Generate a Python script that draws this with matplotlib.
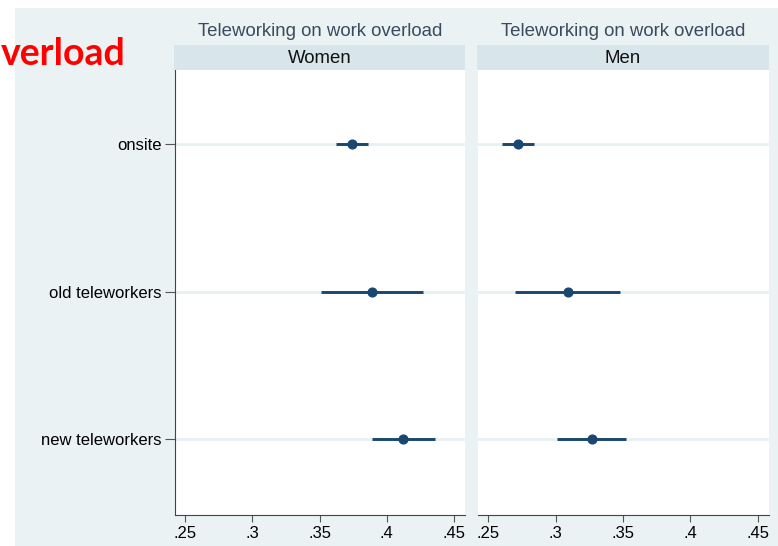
#!/usr/bin/env python
# coding=utf-8

import matplotlib
matplotlib.use("Agg")
import matplotlib.pyplot as plt
from matplotlib.patches import Rectangle

# data
categories = ["onsite", "old teleworkers", "new teleworkers"]
panels = ["Women", "Men"]
panel_title = "Teleworking on work overload"

women_est = [0.374, 0.389, 0.412]
women_lo = [0.362, 0.351, 0.389]
women_hi = [0.386, 0.427, 0.436]

men_est = [0.272, 0.309, 0.327]
men_lo = [0.260, 0.270, 0.301]
men_hi = [0.284, 0.348, 0.352]

xticks = [0.25, 0.30, 0.35, 0.40, 0.45]
xtick_labels = [".25", ".3", ".35", ".4", ".45"]

# style
bg_color = "#EAF2F3"
strip_color = "#D8E5EA"
grid_color = "#E8F0F2"
mark_color = "#1A476F"
font = "Liberation Sans"
font_size = 12.0
title_size = 13.4

W, H = 778, 546
fig = plt.figure(figsize=(W / 100, H / 100), dpi=100)
fig.patch.set_facecolor("white")
fig.patches.append(Rectangle((15 / W, 0), 1, 1 - 8 / H, transform=fig.transFigure,
                             facecolor=bg_color, edgecolor="none", zorder=-10))

# partial red title cut off from the slide
fig.text(0.001, 1 - 65 / H, "verload", color="#FF0000", fontsize=27,
         fontweight="bold", family="Lato", va="baseline", ha="left")

lefts = [175, 478]
widths = [290, 291]
top, bottom = 70, 515
ypos = list(range(1, len(categories) + 1))

data = [(women_est, women_lo, women_hi), (men_est, men_lo, men_hi)]

for i, (name, (est, lo, hi)) in enumerate(zip(panels, data)):
    ax = fig.add_axes([lefts[i] / W, (H - bottom) / H, widths[i] / W, (bottom - top) / H])
    ax.set_facecolor("white")

    for y in ypos:
        ax.axhline(y, color=grid_color, lw=2, zorder=1)
    ax.hlines(ypos, lo, hi, color=mark_color, lw=2.1, zorder=3)
    ax.plot(est, ypos, "o", color=mark_color, markersize=6.3, zorder=4)

    ax.set_xlim(0.2425, 0.4582)
    ax.set_ylim(3.515, 0.498)

    ax.set_xticks(xticks)
    ax.set_xticklabels(xtick_labels, fontsize=font_size, family=font)
    ax.tick_params(axis="x", length=5, width=0.8, color="#555555", pad=3)

    ax.set_yticks(ypos)
    if i == 0:
        ax.set_yticklabels(categories, fontsize=font_size, family=font)
        ax.tick_params(axis="y", length=7.5, width=0.8, color="#555555", pad=2)
    else:
        ax.set_yticklabels([])
        ax.tick_params(axis="y", length=0)

    for side in ["top", "right"]:
        ax.spines[side].set_visible(False)
    ax.spines["left"].set_visible(i == 0)
    ax.spines["left"].set_color("#444444")
    ax.spines["bottom"].set_color("#444444")
    ax.spines["left"].set_linewidth(0.8)
    ax.spines["bottom"].set_linewidth(0.8)

    # strip with panel label
    sax = fig.add_axes([(lefts[i] - 1) / W, (H - 70) / H, (widths[i] + 1) / W, 25 / H])
    sax.set_facecolor(strip_color)
    sax.set_xticks([])
    sax.set_yticks([])
    for s in sax.spines.values():
        s.set_visible(False)
    sax.text(0.5, 0.45, name, ha="center", va="center", fontsize=title_size,
             family=font, color="#111111", transform=sax.transAxes)

    fig.text((lefts[i] + widths[i] / 2) / W, 1 - 31 / H, panel_title, ha="center",
             va="center", fontsize=title_size, family=font, color="#3B4A5C")

plt.savefig("out.png", dpi=100, facecolor=fig.get_facecolor())
